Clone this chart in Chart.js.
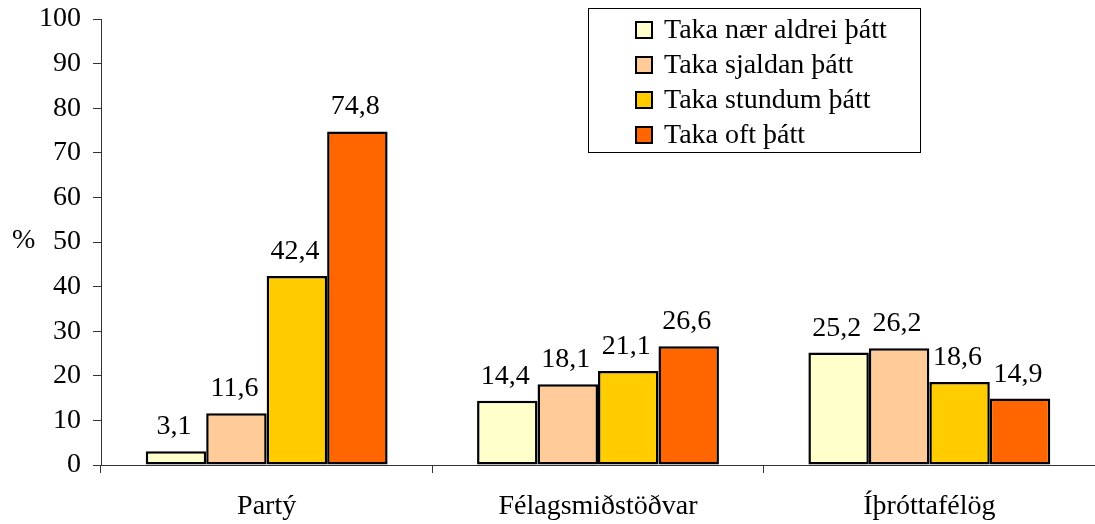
<!DOCTYPE html>
<html>
<head>
<meta charset="utf-8">
<script src="https://cdn.jsdelivr.net/npm/chart.js@4/dist/chart.umd.min.js"></script>
<style>
  body { margin: 0; background: #fff; }
  #wrap { width: 1095px; height: 524px; }
</style>
</head>
<body>
<div id="wrap"><canvas id="chart" width="1095" height="524"></canvas></div>
<script>
// Gögn
const categories = ["Partý", "Félagsmiðstöðvar", "Íþróttafélög"];
const seriesNames = [
  "Taka nær aldrei þátt",
  "Taka sjaldan þátt",
  "Taka stundum þátt",
  "Taka oft þátt",
];
const neverValues = [3.1, 14.4, 25.2];
const seldomValues = [11.6, 18.1, 26.2];
const sometimesValues = [42.4, 21.1, 18.6];
const oftenValues = [74.8, 26.6, 14.9];
const seriesColors = ["#FFFFCC", "#FFCC99", "#FFCC00", "#FF6600"];
const yTicks = [0, 10, 20, 30, 40, 50, 60, 70, 80, 90, 100];

const FONT = { family: "'Liberation Serif', 'Times New Roman', serif", size: 28 };

// Tölur fyrir ofan súlur
const valueLabels = {
  id: "valueLabels",
  afterDatasetsDraw(chart) {
    const ctx = chart.ctx;
    ctx.save();
    ctx.font = FONT.size + "px " + FONT.family;
    ctx.fillStyle = "#000";
    ctx.textAlign = "center";
    ctx.textBaseline = "alphabetic";
    chart.data.datasets.forEach((ds, i) => {
      chart.getDatasetMeta(i).data.forEach((bar, j) => {
        const txt = ds.data[j].toFixed(1).replace(".", ",");
        ctx.fillText(txt, bar.x - 2, bar.y - 17);
      });
    });
    ctx.restore();
  },
};

// Skýringar í ramma og % tákn
const boxLegend = {
  id: "boxLegend",
  afterDraw(chart) {
    const ctx = chart.ctx;
    ctx.save();
    ctx.strokeStyle = "#000";
    ctx.lineWidth = 1;
    ctx.strokeRect(588.5, 8.5, 332, 144);
    ctx.font = FONT.size + "px " + FONT.family;
    ctx.textBaseline = "middle";
    ctx.textAlign = "left";
    chart.data.datasets.forEach((ds, i) => {
      const cy = 30 + i * 35;
      ctx.fillStyle = ds.backgroundColor;
      ctx.fillRect(636, cy - 8, 16, 16);
      ctx.lineWidth = 2;
      ctx.strokeRect(636, cy - 8, 16, 16);
      ctx.fillStyle = "#000";
      ctx.fillText(ds.label, 664, cy + 1);
    });
    ctx.fillText("%", 12, 241);
    ctx.restore();
  },
};

const datasets = [neverValues, seldomValues, sometimesValues, oftenValues].map(
  (vals, i) => ({
    label: seriesNames[i],
    data: vals,
    backgroundColor: seriesColors[i],
    borderColor: "#000",
    borderWidth: 2.5,
    borderSkipped: false,
    barPercentage: 1,
    categoryPercentage: 0.73,
  })
);

new Chart(document.getElementById("chart").getContext("2d"), {
  type: "bar",
  data: { labels: categories, datasets: datasets },
  options: {
    responsive: false,
    animation: false,
    layout: { padding: { top: 19, left: 0, right: 0, bottom: 0 } },
    plugins: { legend: { display: false }, tooltip: { enabled: false } },
    scales: {
      x: {
        offset: true,
        grid: {
          offset: true,
          drawOnChartArea: false,
          tickLength: 8,
          color: "#333",
        },
        border: { color: "#333" },
        ticks: { color: "#000", font: FONT, padding: 17 },
        afterFit(scale) {
          scale.height = 59;
          scale.paddingLeft = 0;
          scale.paddingRight = 0;
        },
      },
      y: {
        min: 0,
        max: 100,
        afterBuildTicks(scale) {
          scale.ticks = yTicks.map((v) => ({ value: v }));
        },
        grid: { drawOnChartArea: false, tickLength: 8, color: "#333" },
        border: { color: "#333" },
        ticks: { color: "#000", font: FONT, padding: 12 },
        afterFit(scale) {
          scale.width = 101;
          scale.paddingTop = 0;
          scale.paddingBottom = 0;
        },
      },
    },
  },
  plugins: [valueLabels, boxLegend],
});
</script>
</body>
</html>
